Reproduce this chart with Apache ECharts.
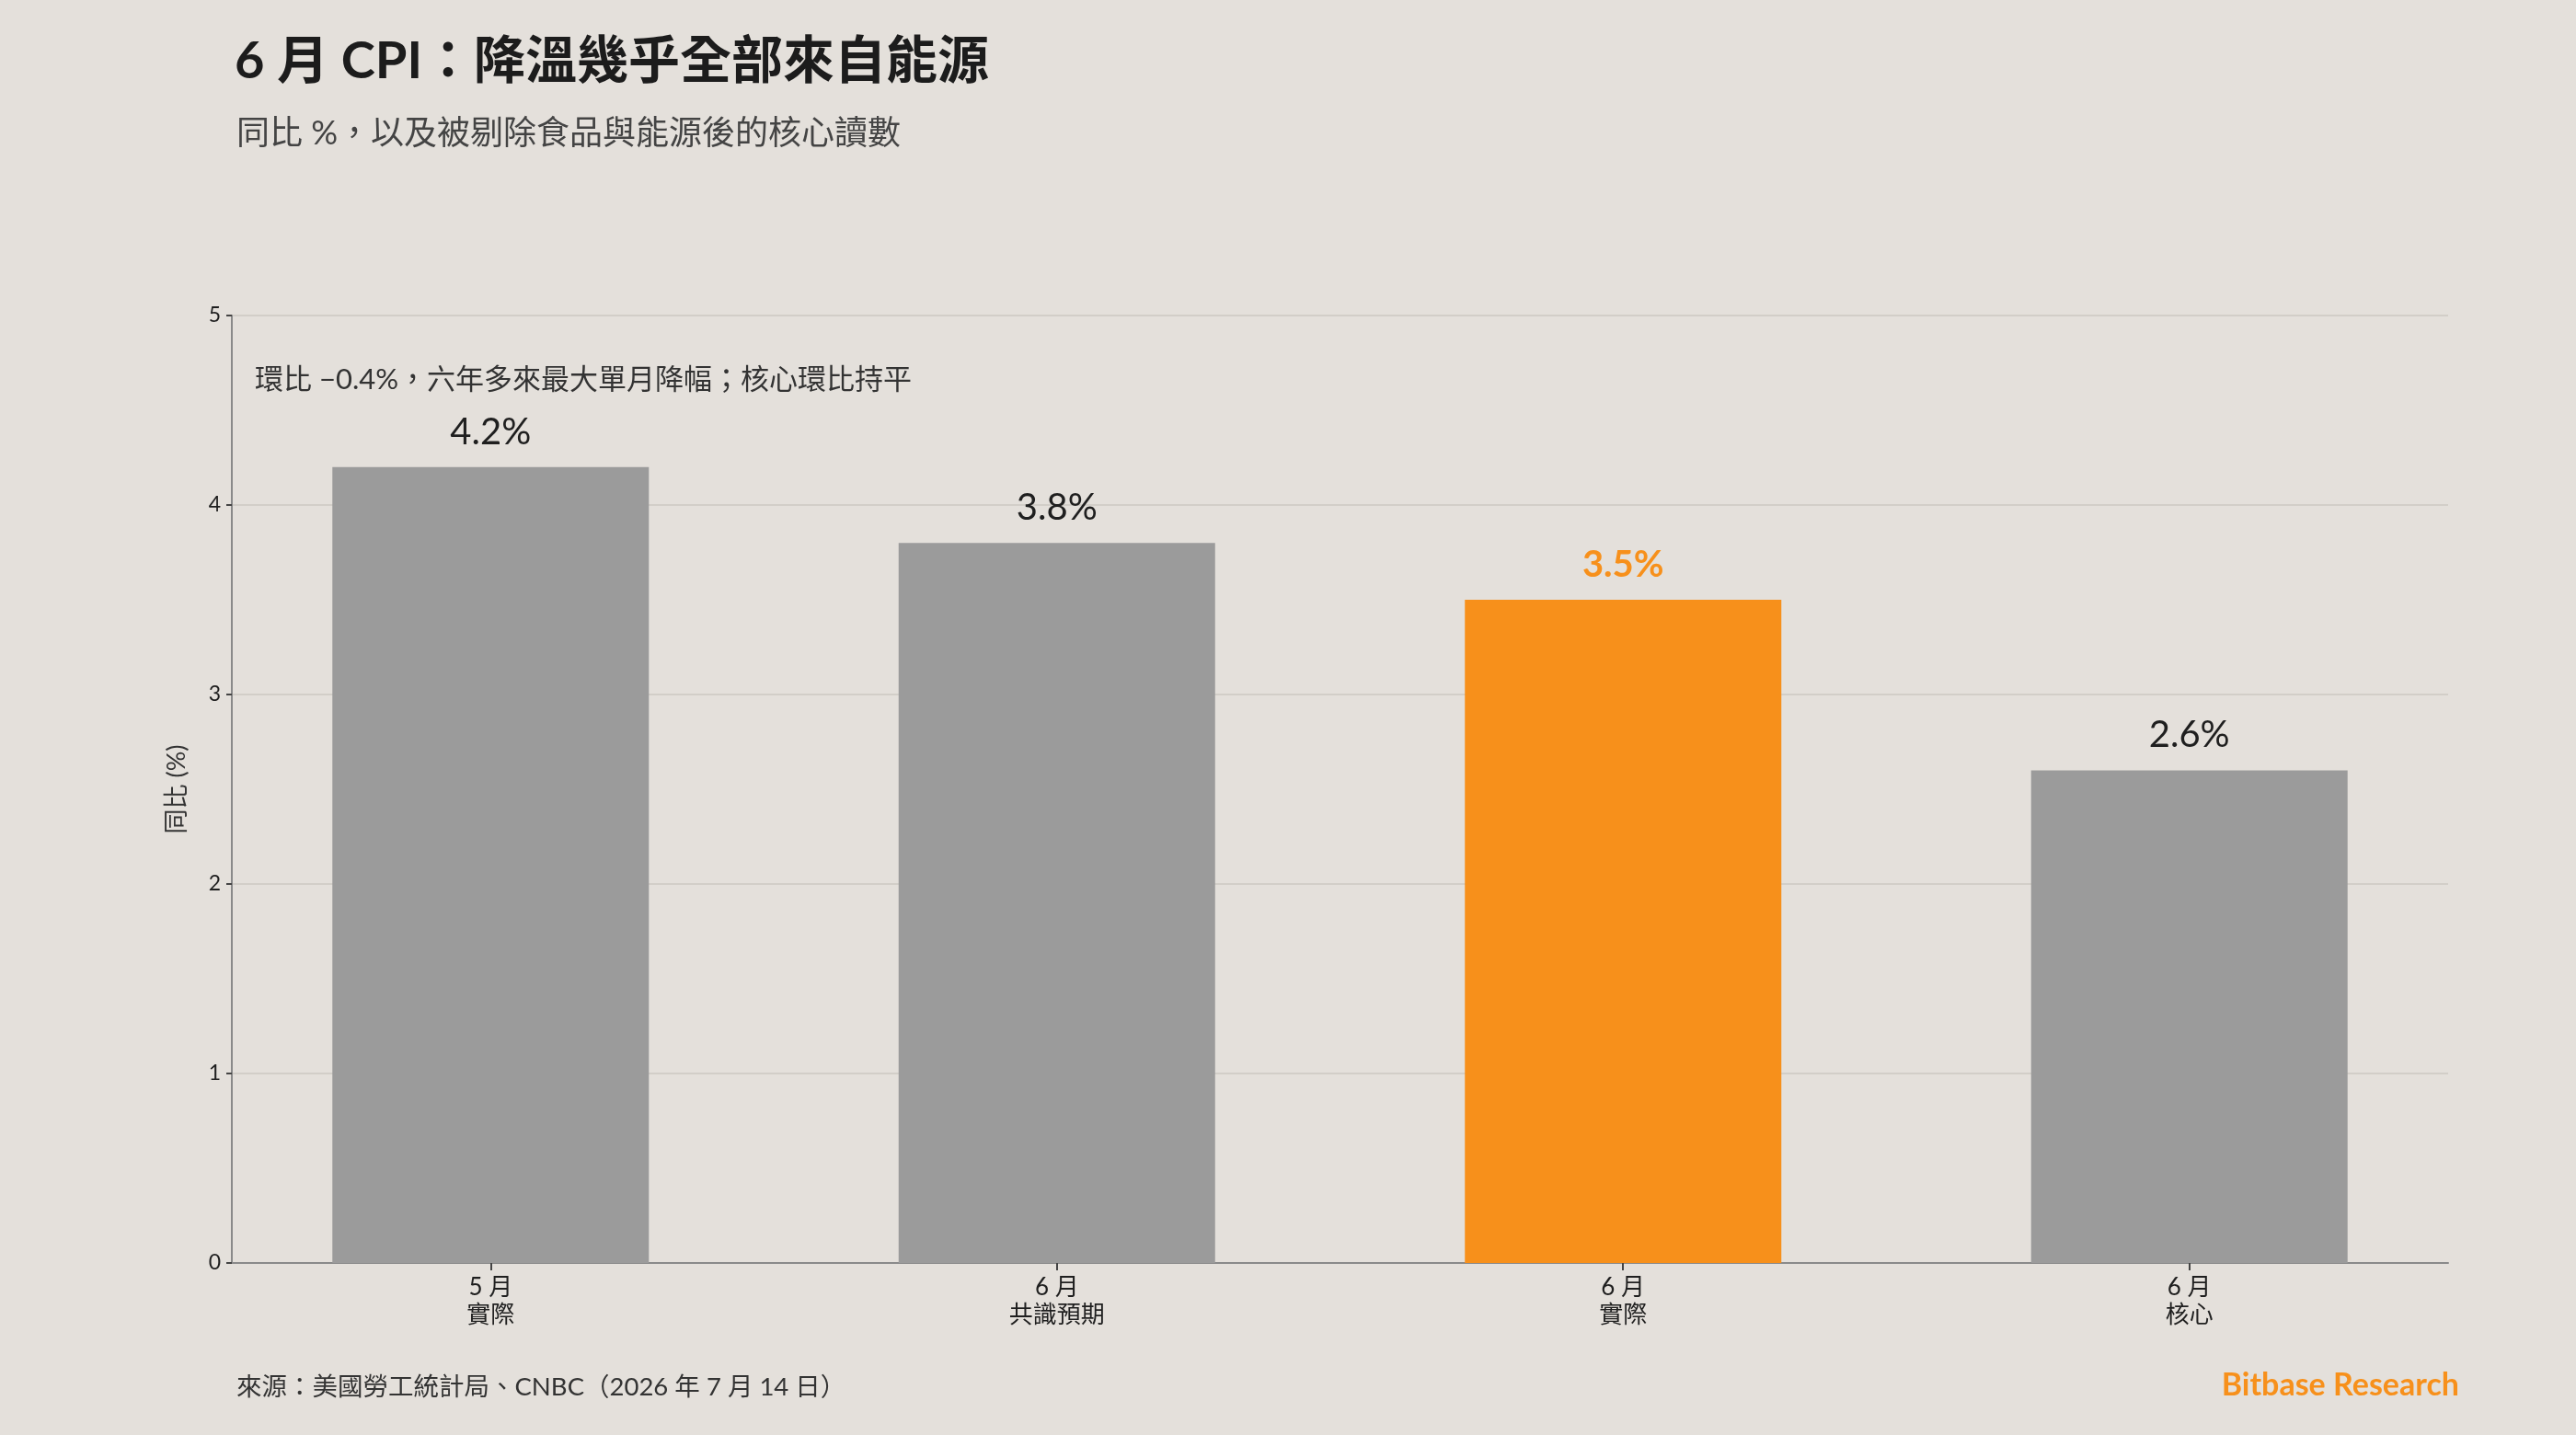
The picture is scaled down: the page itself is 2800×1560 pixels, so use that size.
<!DOCTYPE html>
<html>
<head>
<meta charset="utf-8">
<title>6 月 CPI</title>
<script src="https://cdn.jsdelivr.net/npm/echarts@6/dist/echarts.min.js"></script>
<style>
  html, body { margin: 0; padding: 0; background: #e4e0db; }
  #chart { width: 2800px; height: 1560px; }
</style>
</head>
<body>
<div id="chart"></div>
<script>
// 數據
const categories = ['5 月\n實際', '6 月\n共識預期', '6 月\n實際', '6 月\n核心']
const values = [4.2, 3.8, 3.5, 2.6]
const highlightIndex = 2
const yTicks = [0, 1, 2, 3, 4, 5]

const FONT = 'Lato, "Noto Sans CJK TC", sans-serif'
const GRAY = '#9b9b9b'
const ORANGE = '#f7901b'

const chart = echarts.init(document.getElementById('chart'))

const barData = values.map((v, i) => {
  const hi = i === highlightIndex
  return {
    value: [i, v],
    itemStyle: { color: hi ? ORANGE : GRAY },
    label: {
      color: hi ? ORANGE : '#1f1f1f',
      fontWeight: hi ? 'bold' : 'normal'
    }
  }
})

const option = {
  backgroundColor: '#e4e0db',
  textStyle: { fontFamily: FONT },
  title: [
    {
      text: '6 月 CPI：降溫幾乎全部來自能源',
      left: 250, top: 34,
      textStyle: { fontSize: 56, fontWeight: 'bold', color: '#1c1c1c', fontFamily: FONT }
    },
    {
      text: '同比 %，以及被剔除食品與能源後的核心讀數',
      left: 252, top: 122,
      textStyle: { fontSize: 36, fontWeight: 'normal', color: '#444', fontFamily: FONT }
    },
    {
      text: '環比 −0.4%，六年多來最大單月降幅；核心環比持平',
      left: 272, top: 393,
      textStyle: { fontSize: 31, fontWeight: 'normal', color: '#333', fontFamily: FONT }
    },
    {
      text: '來源：美國勞工統計局、CNBC（2026 年 7 月 14 日）',
      left: 252, top: 1489,
      textStyle: { fontSize: 27.5, fontWeight: 'normal', color: '#333', fontFamily: FONT }
    },
    {
      text: 'Bitbase Research',
      right: 122, top: 1484,
      textStyle: { fontSize: 34, fontWeight: 'bold', color: ORANGE, fontFamily: FONT }
    }
  ],
  grid: { left: 252, right: 139, top: 343, bottom: 187 },
  xAxis: {
    type: 'value',
    min: -0.457,
    max: 3.457,
    splitLine: { show: false },
    axisLine: { show: true, lineStyle: { color: '#8a8a8a', width: 2 } },
    axisTick: {
      show: true,
      customValues: categories.map((c, i) => i),
      length: 8,
      lineStyle: { color: '#444', width: 2 }
    },
    axisLabel: {
      customValues: categories.map((c, i) => i),
      formatter: v => categories[Math.round(v)] || '',
      fontSize: 26,
      lineHeight: 30,
      color: '#1f1f1f',
      margin: 12
    }
  },
  yAxis: {
    type: 'value',
    min: 0,
    max: 5,
    interval: 1,
    name: '同比 (%)',
    nameLocation: 'middle',
    nameGap: 46,
    nameRotate: 90,
    nameTextStyle: { fontSize: 27, color: '#333' },
    axisLine: { show: true, onZero: false, lineStyle: { color: '#8a8a8a', width: 2 } },
    axisTick: { show: true, length: 6, lineStyle: { color: '#444', width: 2 } },
    axisLabel: {
      fontSize: 23,
      color: '#1f1f1f',
      margin: 12,
      formatter: v => yTicks.includes(v) ? String(v) : ''
    },
    splitLine: { show: true, lineStyle: { color: '#d2cec8', width: 2 } }
  },
  series: [
    {
      type: 'bar',
      data: barData,
      barWidth: 344,
      label: {
        show: true,
        position: 'top',
        distance: 18,
        fontSize: 40,
        formatter: p => p.value[1].toFixed(1) + '%'
      }
    }
  ]
}

chart.setOption(option)
window.addEventListener('resize', () => chart.resize())
</script>
</body>
</html>
